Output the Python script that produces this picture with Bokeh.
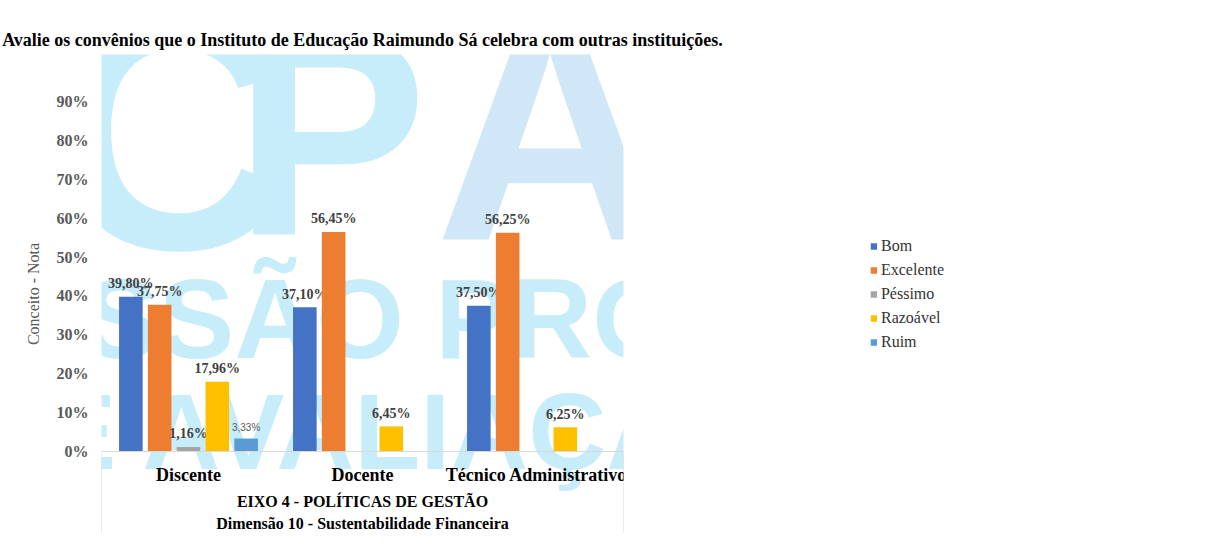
from bokeh.plotting import figure
from bokeh.models import (ColumnDataSource, FactorRange, Range1d, FixedTicker,
                          NumeralTickFormatter, Legend, LegendItem)
from bokeh.transform import dodge
from bokeh.core.properties import value
from bokeh.embed import file_html
from bokeh.resources import INLINE

# ---------------- data ----------------
categories = ["Discente", "Docente", "Técnico Administrativo"]
series_names = ["Bom", "Excelente", "Péssimo", "Razoável", "Ruim"]
bom = [39.80, 37.10, 37.50]
excelente = [37.75, 56.45, 56.25]
pessimo = [1.16, None, None]
razoavel = [17.96, 6.45, 6.25]
ruim = [3.33, None, None]
colors = ["#4472C4", "#ED7D31", "#A5A5A5", "#FFC000", "#5B9BD5"]
y_ticks = [0, 10, 20, 30, 40, 50, 60, 70, 80, 90]

title_text = "Avalie os convênios que o Instituto de Educação Raimundo Sá celebra com outras instituições."
y_label = "Conceito - Nota"
group_label = "EIXO 4 - POLÍTICAS DE GESTÃO"
outer_group_label = "Dimensão 10 - Sustentabilidade Financeira"
watermark_letters = ["C", "P", "A"]
watermark_lines = ["COMISSÃO PRÓPRIA", "DE AVALIAÇÃO"]

series_values = [bom, excelente, pessimo, razoavel, ruim]

# ---------------- figure ----------------
W, H = 1190, 533
FL, FR, FT = 101, 93, 54
px_per_cat = 332.0
px_per_unit = 389.0
zero_y = 451.0
y_min = -(H - zero_y) / px_per_unit
y_max = (zero_y - FT) / px_per_unit


def px2x(px):
    """pixel column -> synthetic categorical coordinate"""
    return (px - FL) / px_per_cat


def px2y(py):
    """pixel row -> value coordinate"""
    return (zero_y - py) / px_per_unit


p = figure(width=W, height=H, x_range=FactorRange(*categories),
           y_range=Range1d(y_min, y_max), output_backend="svg",
           toolbar_location=None, x_axis_location=None,
           min_border_left=FL, min_border_right=FR, min_border_top=FT,
           min_border_bottom=0)
p.outline_line_color = None
p.xgrid.visible = False
p.ygrid.visible = False
p.background_fill_color = "white"
p.border_fill_color = "white"

p.title.text = title_text
p.title.align = "center"
p.title.text_font = "Liberation Serif"
p.title.text_font_style = "bold"
p.title.text_font_size = "18px"
p.title.text_color = "black"

# ---------------- watermark (drawn first, behind the bars) ----------------
wm_c = "#C7EDFA"
wm_b = "#D0E7F8"
wm_specs = [
    (watermark_letters[0], 233, 130, "340px", wm_c),
    (watermark_letters[1], 538, 133, "290px", wm_c),
    (watermark_letters[2], 957, 128, "320px", wm_b),
    (watermark_lines[0], 612, 318, "113px", wm_c),
    (watermark_lines[1], 612, 431, "108px", wm_c),
]
for t, xp, yp, size, col in wm_specs:
    p.text(x=[px2x(xp)], y=[px2y(yp)], text=[t], text_font=value("Liberation Sans"),
           text_font_style="bold", text_font_size=size, text_color=col,
           text_align="center", text_baseline="middle")

# ---------------- bars ----------------
n = len(series_names)
step = 55.0 / px_per_cat
bar_w = 45.0 / px_per_cat
offsets = [(i - (n - 1) / 2) * step for i in range(n)]

data = {"cat": categories}
for i, vals in enumerate(series_values):
    data[f"s{i}"] = [float("nan") if v is None else v / 100.0 for v in vals]
src = ColumnDataSource(data)

items = []
for i, name in enumerate(series_names):
    r = p.vbar(x=dodge("cat", offsets[i], range=p.x_range), top=f"s{i}",
               width=bar_w, source=src, fill_color=colors[i], line_color=None)
    items.append(LegendItem(label=name, renderers=[r]))

    vals = series_values[i]
    cats = [c for c, v in zip(categories, vals) if v is not None]
    ys = [v / 100.0 for v in vals if v is not None]
    txt = [f"{v:.2f}".replace(".", ",") + "%" for v in vals if v is not None]
    lsrc = ColumnDataSource(dict(cat=cats, y=ys, t=txt))
    if name == "Ruim":
        p.text(x=dodge("cat", offsets[i], range=p.x_range), y="y", text="t",
               source=lsrc, text_font=value("Liberation Sans"),
               text_font_size="10px", text_color="#595959", text_align="center",
               text_baseline="middle", y_offset=-11)
    else:
        p.text(x=dodge("cat", offsets[i], range=p.x_range), y="y", text="t",
               source=lsrc, text_font=value("Liberation Serif"),
               text_font_style="bold", text_font_size="14px",
               text_color="#404040", text_align="center",
               text_baseline="middle", y_offset=-13)

# ---------------- category axis box & labels ----------------
ncat = len(categories)
p.segment(x0=[0, 0, ncat], y0=[0, 0, 0], x1=[ncat, 0, ncat], y1=[0, y_min, y_min],
          line_color="#D9D9D9", line_width=1)

csrc = ColumnDataSource(dict(cat=categories))
p.text(x="cat", y=0, text="cat", source=csrc, text_font=value("Liberation Serif"),
       text_font_style="bold", text_font_size="18px", text_color="black",
       text_align="center", text_baseline="middle", y_offset=23)
p.text(x=[ncat / 2.0], y=[0], text=[group_label], text_font=value("Liberation Serif"),
       text_font_style="bold", text_font_size="16px", text_color="black",
       text_align="center", text_baseline="middle", y_offset=50)
p.text(x=[ncat / 2.0], y=[0], text=[outer_group_label], text_font=value("Liberation Serif"),
       text_font_style="bold", text_font_size="16px", text_color="black",
       text_align="center", text_baseline="middle", y_offset=72)

# ---------------- y axis ----------------
yax = p.yaxis[0]
yax.ticker = FixedTicker(ticks=[t / 100.0 for t in y_ticks])
yax.formatter = NumeralTickFormatter(format="0%")
yax.axis_line_color = None
yax.major_tick_line_color = None
yax.minor_tick_line_color = None
yax.major_tick_out = 0
yax.major_tick_in = 0
yax.major_label_standoff = 13
yax.major_label_text_font = "Liberation Serif"
yax.major_label_text_font_style = "bold"
yax.major_label_text_font_size = "16px"
yax.major_label_text_color = "#595959"
yax.axis_label = y_label
yax.axis_label_standoff = 12
yax.axis_label_text_font = "Liberation Serif"
yax.axis_label_text_font_style = "normal"
yax.axis_label_text_font_size = "16px"
yax.axis_label_text_color = "#595959"

# ---------------- legend ----------------
legend = Legend(items=items, location="center", orientation="vertical",
                glyph_width=8, glyph_height=8, label_height=16, spacing=6,
                label_standoff=4, padding=0, margin=0,
                label_text_font="Liberation Serif", label_text_font_size="16px",
                label_text_color="#333333", label_text_baseline="middle",
                border_line_color=None, background_fill_alpha=0)
p.add_layout(legend, "right")

open("out.html", "w").write(file_html(p, INLINE))
